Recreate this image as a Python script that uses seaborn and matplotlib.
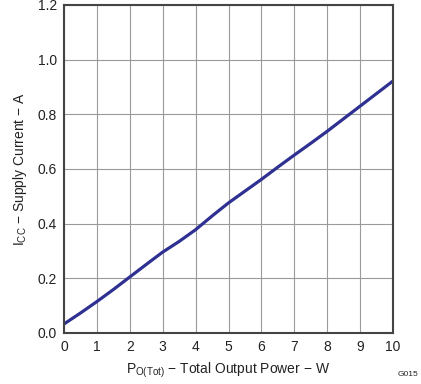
import numpy as np
import pandas as pd
import seaborn as sns
import matplotlib.pyplot as plt
from matplotlib.ticker import FormatStrFormatter

# Supply current vs. total output power
power_w = [0, 0.5, 1, 1.5, 2, 2.6, 3, 3.5, 3.85, 4, 4.5, 5, 5.5, 6, 6.5, 7, 7.5, 8, 8.5, 9, 9.5, 10]
current_a = [0.033, 0.073, 0.115, 0.159, 0.205, 0.260, 0.296, 0.335, 0.365, 0.378, 0.428,
             0.476, 0.519, 0.562, 0.607, 0.651, 0.694, 0.738, 0.784, 0.830, 0.876, 0.922]
x_ticks = list(range(0, 11))
y_ticks = [0.0, 0.2, 0.4, 0.6, 0.8, 1.0, 1.2]

df = pd.DataFrame({'power': power_w, 'current': current_a})

sns.set_theme(style='white')
plt.rcParams['font.family'] = ['Liberation Sans', 'DejaVu Sans']
plt.rcParams['mathtext.fontset'] = 'custom'
plt.rcParams['mathtext.rm'] = 'Liberation Sans'

fig = plt.figure(figsize=(4.21, 3.84), dpi=100)
ax = fig.add_axes([64 / 421, 1 - 333 / 384, 329 / 421, 328 / 384])

sns.lineplot(data=df, x='power', y='current', ax=ax, color='#2E3192', linewidth=2.3)

ax.set_xlim(0, 10)
ax.set_ylim(0, 1.2)
ax.set_xticks(x_ticks)
ax.set_yticks(y_ticks)
ax.yaxis.set_major_formatter(FormatStrFormatter('%.1f'))
ax.grid(True, color='#9a9a9a', linewidth=0.8)
ax.tick_params(length=0, pad=5, labelsize=10, colors='#222222')
for s in ax.spines.values():
    s.set_color('#444444')
    s.set_linewidth(1.5)

ax.set_xlabel(r'$\mathregular{P_{O(Tot)}}$ − Total Output Power − W', fontsize=10, color='#222222', labelpad=5)
ax.set_ylabel(r'$\mathregular{I_{CC}}$ − Supply Current − A', fontsize=10, color='#222222', labelpad=6)

fig.text(418 / 421, 6 / 384, 'G015', fontsize=6, ha='right', va='bottom', color='#222222')

plt.savefig('out.png', dpi=100)
plt.close()
